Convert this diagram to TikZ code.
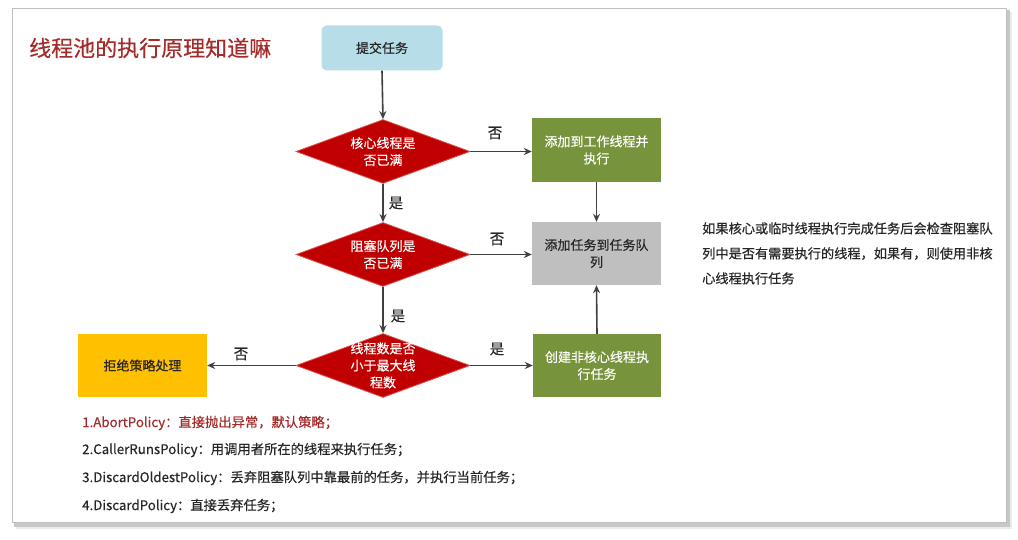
\documentclass[tikz,border=0pt]{standalone}
\usepackage{fontspec}
\setmainfont{Noto Sans CJK SC}[FakeBold=0.35]
\usetikzlibrary{arrows.meta,shapes.geometric}
\definecolor{titlered}{HTML}{A52A2A}
\definecolor{dred}{HTML}{C00000}
\definecolor{dredline}{HTML}{D9534F}
\definecolor{lblue}{HTML}{B7DEE8}
\definecolor{olive}{HTML}{77933C}
\definecolor{lgray}{HTML}{BFBFBF}
\definecolor{amber}{HTML}{FFC000}
\definecolor{txt}{HTML}{262626}
\definecolor{arr}{HTML}{404040}
\tikzset{
  box/.style={rectangle, minimum width=129pt, minimum height=64pt, inner sep=2pt, align=center, font=\fontsize{13pt}{17pt}\selectfont},
  dia/.style={diamond, fill=dred, draw=dredline, line width=0.8pt, minimum width=174pt, minimum height=64pt, inner sep=0pt, aspect=2.7},
  diatext/.style={text=white, align=center, font=\fontsize{13pt}{17pt}\selectfont, inner sep=0pt},
  conn/.style={draw=arr, line width=1.6pt, -{Stealth[length=8pt,width=7pt]}},
  lab/.style={text=txt, font=\fontsize{14.5pt}{16pt}\selectfont, inner sep=0pt},
  pol/.style={anchor=west, inner sep=0pt, font=\fontsize{13.3pt}{15pt}\selectfont, text=txt}
}
\begin{document}
\begin{tikzpicture}[x=1pt,y=-1pt]
\useasboundingbox (0,0) rectangle (1018,540);
\fill[white] (0,0) rectangle (1018,540);
% frame shadow
\fill[black!22] (1006,10) rectangle (1010,527);
\fill[black!22] (14,522) rectangle (1010,527);
\fill[black!8] (1010,12) rectangle (1012,529);
\fill[black!8] (16,527) rectangle (1012,529);
\draw[black!25, line width=0.8pt, fill=white] (12,8) rectangle (1006,522);

\node[anchor=west, text=titlered, font=\fontsize{22pt}{26pt}\selectfont, inner sep=0pt] (title) at (29,48) {线程池的执行原理知道嘛};

\node[box, fill=lblue, rounded corners=5pt, minimum width=121pt, minimum height=45pt, text=txt] (submit) at (382,48) {提交任务};

\node[dia] (d1) at (383,151.5) {};
\node[diatext] (t1) at (d1) {核心线程是\\否已满};
\node[dia] (d2) at (383,254.5) {};
\node[diatext] (t2) at (d2) {阻塞队列是\\否已满};
\node[dia] (d3) at (383,365.5) {};
\node[diatext] (t3) at (d3) {线程数是否\\小于最大线\\程数};

\node[box, fill=olive, text=white] (g1) at (596.5,150) {添加到工作线程并\\执行};
\node[box, fill=lgray, text=txt, minimum height=63pt] (q) at (596.5,253.5) {添加任务到任务队\\列};
\node[box, fill=olive, text=white, minimum width=128pt, minimum height=63pt] (g2) at (597,365.5) {创建非核心线程执\\行任务};
\node[box, fill=amber, text=txt, minimum height=63pt] (rej) at (142.5,365.5) {拒绝策略处理};

\draw[conn] (submit.south) -- (d1.north);
\draw[conn] (d1.east) -- (g1.west |- d1.east);
\draw[conn] (d1.south) -- (d2.north);
\draw[conn] (g1.south) -- (q.north);
\draw[conn] (d2.east) -- (q.west |- d2.east);
\draw[conn] (d2.south) -- (d3.north);
\draw[conn] (d3.east) -- (g2.west |- d3.east);
\draw[conn] (g2.north) -- (q.south);
\draw[conn] (d3.west) -- (rej.east |- d3.west);

\node[lab] (n1) at (495,133) {否};
\node[lab] (y1) at (396,203) {是};
\node[lab] (n2) at (497,239) {否};
\node[lab] (y2) at (398,316) {是};
\node[lab] (y3) at (497,349) {是};
\node[lab] (n3) at (241,354) {否};

\node[anchor=north west, align=left, inner sep=0pt, text=txt, font=\fontsize{13.2pt}{25pt}\selectfont] (note) at (702,222) {如果核心或临时线程执行完成任务后会检查阻塞队\\列中是否有需要执行的线程，如果有，则使用非核\\心线程执行任务};

\node[pol, text=titlered] (p1) at (82,423) {1.AbortPolicy：直接抛出异常，默认策略；};
\node[pol] (p2) at (82,450) {2.CallerRunsPolicy：用调用者所在的线程来执行任务；};
\node[pol] (p3) at (82,478) {3.DiscardOldestPolicy：丢弃阻塞队列中靠最前的任务，并执行当前任务；};
\node[pol] (p4) at (82,506) {4.DiscardPolicy：直接丢弃任务；};
\end{tikzpicture}
\end{document}
